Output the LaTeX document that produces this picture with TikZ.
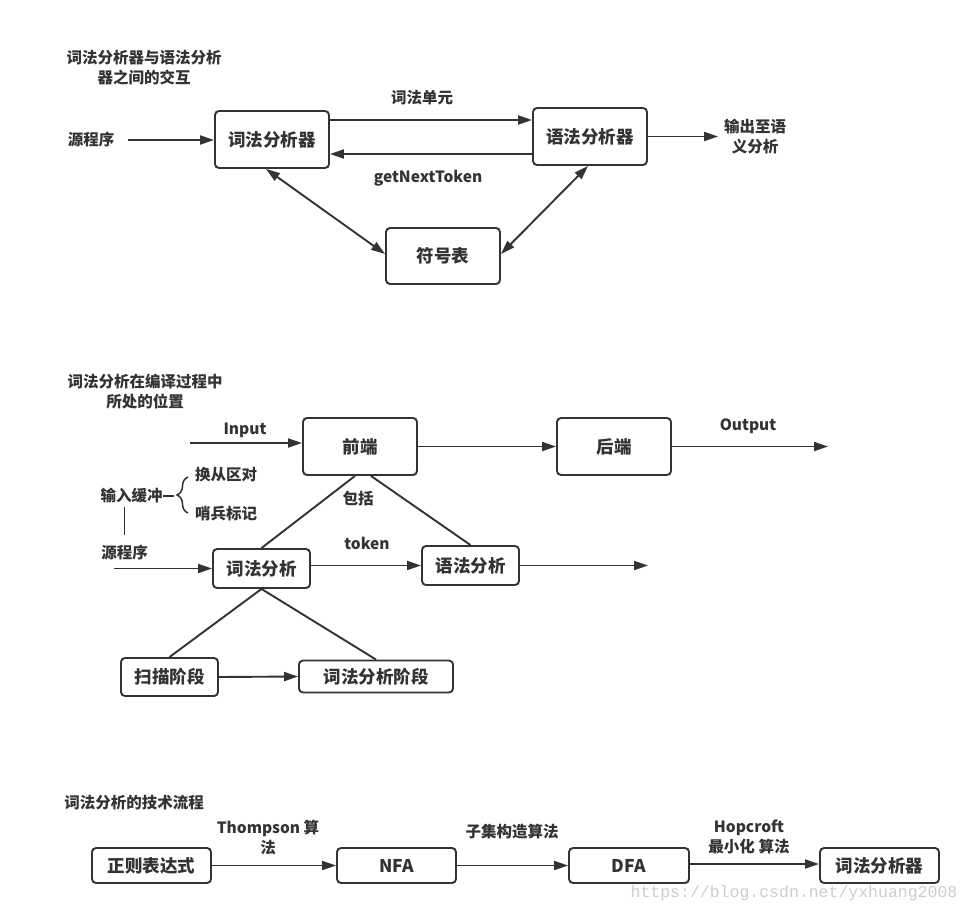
\documentclass[tikz,border=0pt]{standalone}
\usepackage{fontspec}
\setmainfont{Noto Sans CJK SC}
\newfontfamily\markfont{Liberation Mono}
\usetikzlibrary{arrows.meta,decorations.pathreplacing}
\definecolor{inkgray}{RGB}{51,51,51}
\definecolor{markgray}{RGB}{205,205,205}

\begin{document}
\begin{tikzpicture}[x=1pt,y=-1pt,
		bigbox/.style={draw=inkgray, line width=1.9pt, rounded corners=4pt,
			minimum width=114pt, minimum height=57pt, inner sep=0pt,
			text=inkgray, font=\fontsize{17.5}{20}\selectfont\bfseries},
		midbox/.style={bigbox, minimum width=97pt, minimum height=39pt},
		flowbox/.style={bigbox, minimum width=119pt, minimum height=35pt},
		lbl/.style={text=inkgray, inner sep=0pt, align=center,
			font=\fontsize{15.5}{20}\selectfont\bfseries},
		arrow/.style={-{Triangle[length=14pt,width=9pt]}, line width=1.9pt, draw=inkgray},
		biarrow/.style={arrow, {Triangle[length=14pt,width=9pt]}-{Triangle[length=14pt,width=9pt]}},
		link/.style={line width=1.9pt, draw=inkgray}
	]
		\useasboundingbox (0,0) rectangle (971,915);
		\fill[white] (0,0) rectangle (971,915);

		% part 1
		\node[lbl] (title1) at (144,68) {词法分析器与语法分析\\器之间的交互};
		\node[lbl] (src1) at (91,140) {源程序};
		\node[bigbox] (lexA) at (272,139.5) {词法分析器};
		\node[bigbox] (synA) at (590,136.5) {语法分析器};
		\node[bigbox, minimum height=56pt] (symtab) at (443,256) {符号表};
		\node[lbl] (unit) at (422,98) {词法单元};
		\node[lbl] (gnt) at (428,178) {getNextToken};
		\node[lbl] (toSem) at (755,137) {输出至语\\义分析};
		\coordinate (srcA) at (128,140);
		\coordinate (outA) at (718,136.5);
		\draw[arrow] (srcA) -- (srcA -| lexA.west);
		\draw[arrow] ([yshift=19.5pt]lexA.east) -- ([yshift=16.5pt]synA.west);
		\draw[arrow] ([yshift=-17.5pt]synA.west) -- ([yshift=-14.5pt]lexA.east);
		\draw[biarrow] ([xshift=-6pt]lexA.south) -- ([yshift=2pt]symtab.west);
		\draw[biarrow] ([yshift=2pt]symtab.east) -- ([xshift=-2pt]synA.south);
		\draw[arrow] (synA.east) -- (outA);

		% part 2
		\node[lbl] (title2) at (145,392) {词法分析在编译过程中\\所处的位置};
		\node[bigbox] (front) at (360,446.5) {前端};
		\node[bigbox] (back) at (614,446.5) {后端};
		\node[lbl] (input) at (245,430) {Input};
		\node[lbl] (output) at (748,426) {Output};
		\node[lbl] (buf) at (131.5,496) {输入缓冲};
		\node[lbl] (swap) at (226,475) {换从区对};
		\node[lbl] (sentinel) at (226,514) {哨兵标记};
		\node[lbl] (src2) at (124.5,553) {源程序};
		\node[midbox] (lexB) at (261.5,568.5) {词法分析};
		\node[midbox] (synB) at (470.5,565.5) {语法分析};
		\node[lbl] (incl) at (358,499) {包括};
		\node[lbl] (token) at (367,543) {token};
		\node[midbox, minimum height=38pt] (scan) at (169.5,677) {扫描阶段};
		\node[bigbox, minimum width=154pt, minimum height=32pt] (lexphase) at (376,676.5) {词法分析阶段};
		\coordinate (inB) at (190,443);
		\coordinate (outB) at (828,446.5);
		\coordinate (srcB) at (114,568.5);
		\coordinate (synEnd) at (648,565.5);
		\draw[arrow] (inB) -- (inB -| front.west);
		\draw[arrow] (front.east) -- (back.west);
		\draw[arrow] (back.east) -- (outB);
		\draw[link] (buf.east) -- ++(11,0) coordinate (tip);
		\draw[link, line width=1.5pt, decorate, decoration={brace, amplitude=11pt}]
			(188,513) -- (188,477);
		\draw[link, shorten <=3pt, shorten >=10pt] (src2.north |- buf.south) -- (src2.north);
		\draw[arrow] (srcB) -- (lexB.west);
		\draw[arrow] (lexB.east |- synB.west) -- (synB.west);
		\draw[arrow] (synB.east) -- (synEnd);
		\draw[link] ([xshift=-5pt]front.south) -- (lexB.north);
		\draw[link] ([xshift=11pt]front.south) -- (synB.north);
		\draw[link] (lexB.south) -- (scan.north);
		\draw[link] (lexB.south) -- (lexphase.north);
		\draw[arrow] (scan.east) -- (lexphase.west);

		% part 3
		\node[lbl] (title3) at (134,803) {词法分析的技术流程};
		\node[flowbox] (regex) at (151.5,865.5) {正则表达式};
		\node[flowbox] (nfa) at (396.5,865.5) {NFA};
		\node[flowbox, minimum width=120pt] (dfa) at (629,865.5) {DFA};
		\node[flowbox] (lexgen) at (879.5,865.5) {词法分析器};
		\node[lbl] (thompson) at (268,838) {Thompson 算\\法};
		\node[lbl] (subset) at (512,832) {子集构造算法};
		\node[lbl] (hopcroft) at (749,837) {Hopcroft\\最小化 算法};
		\draw[arrow] (regex.east) -- (nfa.west);
		\draw[arrow] (nfa.east) -- (dfa.west);
		\draw[arrow] ([yshift=1.5pt]dfa.east) -- ([yshift=1.5pt]lexgen.west);

		\node[text=markgray, inner sep=0pt, font=\markfont\fontsize{16.5}{18}\selectfont] (mark) at (794,893) {https://blog.csdn.net/yxhuang2008};
	\end{tikzpicture}
\end{document}
